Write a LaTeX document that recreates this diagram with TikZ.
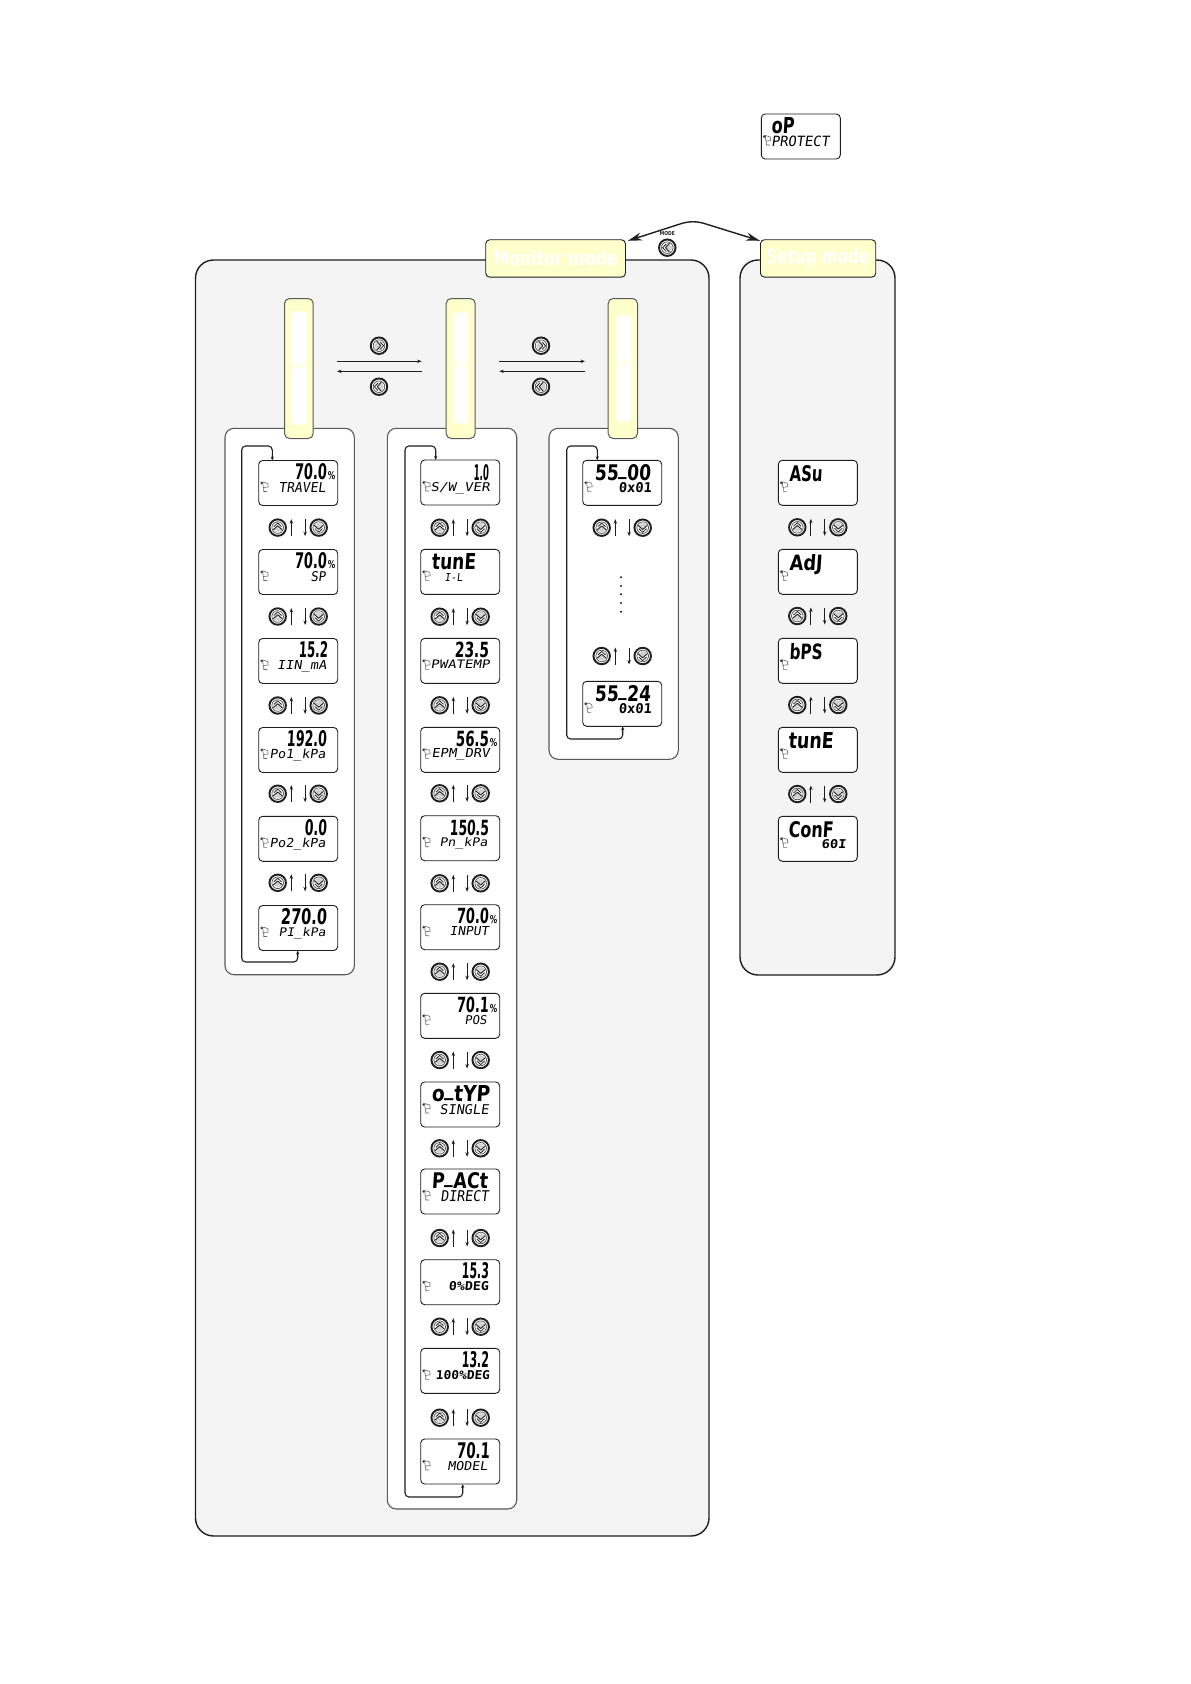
\documentclass[tikz,border=0pt]{standalone}
\usepackage{fontspec}
\usepackage{graphicx}
\usetikzlibrary{arrows.meta,calc}
\setmainfont{Liberation Sans}
\newfontfamily\lcdbigf[FakeSlant=0.08]{DejaVu Sans Bold}
\newfontfamily\lcdsmallf[FakeSlant=0.14]{DejaVu Sans Mono}
\newfontfamily\lcdsmallbf[FakeSlant=0.08]{DejaVu Sans Mono Bold}
\newfontfamily\headf{DejaVu Sans Bold}
\definecolor{panelgrey}{HTML}{F4F4F4}
\definecolor{tabyellow}{HTML}{FFFFCC}
\definecolor{tabhalo}{HTML}{FFFFEC}
\definecolor{inkline}{HTML}{1E1E1E}
\tikzset{
  panel/.style={draw=inkline,line width=1.4pt,fill=panelgrey,rounded corners=18pt},
  subpanel/.style={draw=black!65,line width=1.1pt,fill=white,rounded corners=9pt},
  tabbox/.style={draw=black!65,line width=1pt,fill=tabyellow,rounded corners=5pt},
  headbox/.style={draw=inkline,line width=.9pt,fill=tabyellow,rounded corners=4pt,inner sep=0pt,anchor=north west},
  lcdbox/.style={draw=inkline,line width=.9pt,fill=white,rounded corners=4pt,inner sep=0pt,outer sep=0pt,anchor=north west,minimum width=79pt,minimum height=45pt},
  btnc/.style={circle,draw=inkline,line width=1.9pt,fill=white,inner sep=0pt,minimum size=16.5pt},
  thinarrow/.style={draw=inkline,line width=.9pt,-{Stealth[length=4.5pt,width=3.4pt]}},
  loopline/.style={draw=inkline,line width=1.1pt,rounded corners=4pt,{Stealth[length=4pt,width=3.2pt]}-{Stealth[length=4pt,width=3.2pt]}},
  txt/.style={inner sep=0pt,outer sep=0pt,anchor=base west},
}
% button: name, x, y, rotation
\newcommand{\btnat}[4]{%
  \node[btnc] (#1) at (#2,#3) {};
  \begin{scope}[shift={(#1.center)},rotate=#4]
    \draw[black!70,line width=.7pt] (0,0) circle (5.8pt);
    \fill[black!18] (-4.6,2.6)--(0,-1.4)--(4.6,2.6)--(0,4.8)--cycle;
    \draw[inkline,line width=.9pt,line join=round] (-4.6,2.2)--(0,-1.8)--(4.6,2.2);
    \draw[inkline,line width=.8pt,line join=round] (-3.8,-1.0)--(0,-4.6)--(3.8,-1.0);
  \end{scope}}
% pair of buttons with arrows: id, LCD left, y centre
\newcommand{\updown}[3]{%
  \btnat{#1-u}{{#2+19}}{#3}{0}
  \btnat{#1-d}{{#2+60}}{#3}{180}
  \draw[thinarrow] ([shift={(13.6,8.5)}]#1-u.center) -- ([shift={(13.6,-8.5)}]#1-u.center);
  \draw[thinarrow] ([shift={(-13.6,-8.5)}]#1-d.center) -- ([shift={(-13.6,8.5)}]#1-d.center);}
% LCD frame with its pointer icon: name, left, top
\newcommand{\mylcd}[3]{%
  \node[lcdbox] (#1) at (#2,#3) {};
  \begin{scope}[shift={(#1.north west)}]
    \fill[black!80] (3,22.5) circle (1.4pt);
    \draw[black!60,line width=.6pt] (4,21.5)--(9,23)--(9.5,26.5)--(4.5,27)--cycle (5,27)--(5,31)--(8.5,31);
  \end{scope}}
% text in LCD: style-font, node name, lcd, x0, x1, ytop, ybase, text
\newcommand{\lcdtext}[8]{%
  \pgfmathsetlengthmacro\lcdW{(#5)-(#4)}%
  \pgfmathsetlengthmacro\lcdH{(#7)-(#6)}%
  \node[txt,text=black] (#2) at ([shift={(#4,#7)}]#3.north west) {\resizebox{\lcdW}{\lcdH}{#1#8}};}
\newcommand{\lcdB}[6]{\lcdtext{\lcdbigf}{#1-b}{#1}{#2}{#3}{#4}{#5}{#6}}
\newcommand{\lcdS}[6]{\lcdtext{\lcdsmallf}{#1-s}{#1}{#2}{#3}{#4}{#5}{#6}}
\newcommand{\lcdSB}[6]{\lcdtext{\lcdsmallbf}{#1-s}{#1}{#2}{#3}{#4}{#5}{#6}}
\newcommand{\lcdP}[1]{\lcdtext{\lcdbigf}{#1-p}{#1}{69}{76.5}{11}{19}{\%}}
\newcommand{\lowbar}{\raisebox{.26em}{\_}}
\begin{document}
\begin{tikzpicture}[x=1pt,y=-1pt]
\useasboundingbox (0,0) rectangle (1191,1684);
% panels
\draw[panel] (195.5,260) rectangle (709,1536);
\draw[panel] (740,260) rectangle (895,975);
\draw[subpanel] (225,428.3) rectangle (354.3,974.7);
\draw[subpanel] (387.3,428.3) rectangle (516.7,1509);
\draw[subpanel] (549,428.3) rectangle (678.3,759.3);
% tabs
\node[tabbox,minimum width=28.7pt,minimum height=140pt,inner sep=0pt,anchor=north west] (t1) at (284,298) {};
\node[tabbox,minimum width=29pt,minimum height=140pt,inner sep=0pt,anchor=north west] (t2) at (445.7,298) {};
\node[tabbox,minimum width=29.3pt,minimum height=140pt,inner sep=0pt,anchor=north west] (t3) at (607.7,298) {};
\fill[tabhalo,rounded corners=2pt] (290.5,311) rectangle (307,425);
\fill[tabhalo,rounded corners=2pt] (453,312) rectangle (469,424);
\fill[tabhalo,rounded corners=2pt] (616,315) rectangle (632,422);
\fill[white,rounded corners=1.5pt] (292.7,313) rectangle (305,363) (292.7,368) rectangle (305,423);
\fill[white,rounded corners=1.5pt] (455,314) rectangle (467,363) (455,367) rectangle (467,422);
\fill[white,rounded corners=1.5pt] (618,317) rectangle (630,360) (618,365) rectangle (630,420);
% headers
\node[headbox,minimum width=139.7pt,minimum height=37.4pt] (hm) at (485.3,239.3) {};
\node[headbox,minimum width=115.3pt,minimum height=37.4pt] (hs) at (760,239.3) {};
\node[inner sep=0pt,text=white] (hmt) at (hm.center) {\resizebox{124pt}{15pt}{\headf Monitor mode}};
\node[inner sep=0pt,text=white] (hst) at (hs.center) {\resizebox{103pt}{15pt}{\headf Setup mode}};
% mode switch
\coordinate (arcL) at (680,224);
\coordinate (arcLc) at (689,221);
\coordinate (arcRc) at (697,221);
\coordinate (arcR) at (706,224);
\draw[draw=inkline,line width=1.4pt,{Stealth[length=14pt,width=8pt]}-{Stealth[length=14pt,width=8pt]}] ([shift={(2,1.5)}]hm.north east) -- (arcL) .. controls (arcLc) and (arcRc) .. (arcR) -- ([shift={(0,1.5)}]hs.north west);
\btnat{bmode}{667.3}{247.7}{90}
\node[inner sep=0pt,text=inkline] (modetxt) at (667.3,234) {\resizebox{15pt}{4pt}{\headf MODE}};
% group change arrows
\draw[thinarrow] ([shift={(23.3,63.3)}]t1.north east) -- ([shift={(-24,63.3)}]t2.north west);
\draw[thinarrow] ([shift={(-24,73.3)}]t2.north west) -- ([shift={(23.3,73.3)}]t1.north east);
\draw[thinarrow] ([shift={(23.6,63.3)}]t2.north east) -- ([shift={(-22.7,63.3)}]t3.north west);
\draw[thinarrow] ([shift={(-22.7,73.3)}]t3.north west) -- ([shift={(23.6,73.3)}]t2.north east);
\btnat{g1r}{379}{345.7}{-90}
\btnat{g1l}{379}{386.7}{90}
\btnat{g2r}{541}{345.7}{-90}
\btnat{g2l}{541}{386.7}{90}
% top LCD
\mylcd{op}{761.3}{114}
\lcdB{op}{10}{33}{3}{19}{oP}
\lcdS{op}{10}{68}{21.5}{32}{PROTECT}
% column 1
\mylcd{a1}{258.7}{460.5} \lcdB{a1}{36}{68}{3}{19}{70.0} \lcdP{a1} \lcdS{a1}{20}{67}{22}{32}{TRAVEL}
\mylcd{a2}{258.7}{549.5} \lcdB{a2}{36}{68}{3}{19}{70.0} \lcdP{a2} \lcdS{a2}{52}{67}{22}{32}{SP}
\mylcd{a3}{258.7}{638.5} \lcdB{a3}{40}{69}{3}{19}{15.2} \lcdS{a3}{18.5}{68}{22}{31}{IIN\_mA}
\mylcd{a4}{258.7}{727.5} \lcdB{a4}{28}{68}{3}{19}{192.0} \lcdS{a4}{11}{67}{21.5}{31}{Po1\_kPa}
\mylcd{a5}{258.7}{816.3} \lcdB{a5}{46}{68}{3}{19}{0.0} \lcdS{a5}{11}{67}{21.5}{31}{Po2\_kPa}
\mylcd{a6}{258.7}{905.5} \lcdB{a6}{22}{68}{3}{19}{270.0} \lcdS{a6}{20}{67}{22}{31}{PI\_kPa}
\updown{ab1}{258.7}{527.6}
\updown{ab2}{258.7}{616.5}
\updown{ab3}{258.7}{705.5}
\updown{ab4}{258.7}{793.7}
\updown{ab5}{258.7}{882.8}
\coordinate (l1sw) at (241.7,962);
\coordinate (l1nw) at (241.7,446);
\draw[loopline] ([xshift=39pt]a6.south west) |- (l1sw) -- (l1nw) -| ([xshift=13.6pt]a1.north west);
% column 2
\mylcd{b1}{420.7}{460} \lcdB{b1}{53}{68}{4}{20}{1.0} \lcdS{b1}{10}{69}{22}{31}{S/W\_VER}
\mylcd{b2}{420.7}{549.3} \lcdB{b2}{11}{55}{4}{20}{tunE} \lcdS{b2}{24}{42}{24}{32}{I-L}
\mylcd{b3}{420.7}{638.3} \lcdB{b3}{34}{68}{4}{19.5}{23.5} \lcdS{b3}{10}{69}{22}{30.5}{PWATEMP}
\mylcd{b4}{420.7}{727.3} \lcdB{b4}{35}{68}{3.5}{19}{56.5} \lcdP{b4} \lcdS{b4}{11}{69}{21}{30}{EPM\_DRV}
\mylcd{b5}{420.7}{815.7} \lcdB{b5}{29}{68}{4}{19.5}{150.5} \lcdS{b5}{19}{67}{22}{31}{Pn\_kPa}
\mylcd{b6}{420.7}{904.7} \lcdB{b6}{36}{68}{3.5}{19}{70.0} \lcdP{b6} \lcdS{b6}{29}{68}{22}{31}{INPUT}
\mylcd{b7}{420.7}{993.3} \lcdB{b7}{36}{68}{3.5}{19}{70.1} \lcdP{b7} \lcdS{b7}{44}{66}{22}{31}{POS}
\mylcd{b8}{420.7}{1082} \lcdB{b8}{11}{69}{3}{19}{o\lowbar tYP} \lcdS{b8}{19}{68}{22}{32}{SINGLE}
\mylcd{b9}{420.7}{1169} \lcdB{b9}{11}{67}{3}{19}{P\lowbar ACt} \lcdS{b9}{20}{68}{21}{32}{DIRECT}
\mylcd{b10}{420.7}{1259.7} \lcdB{b10}{41}{68}{3}{19}{15.3} \lcdSB{b10}{28}{68}{22}{31}{0\%DEG}
\mylcd{b11}{420.7}{1348.3} \lcdB{b11}{41}{68}{3}{19}{13.2} \lcdSB{b11}{15}{69}{22}{31}{100\%DEG}
\mylcd{b12}{420.7}{1439} \lcdB{b12}{36}{69}{3}{19}{70.1} \lcdS{b12}{27}{67}{22}{31}{MODEL}
\updown{bb1}{420.7}{527.7}
\updown{bb2}{420.7}{616.7}
\updown{bb3}{420.7}{705.3}
\updown{bb4}{420.7}{793.3}
\updown{bb5}{420.7}{883.3}
\updown{bb6}{420.7}{971.7}
\updown{bb7}{420.7}{1060}
\updown{bb8}{420.7}{1148.3}
\updown{bb9}{420.7}{1238}
\updown{bb10}{420.7}{1326.7}
\updown{bb11}{420.7}{1417.7}
\coordinate (l2sw) at (405,1497);
\coordinate (l2nw) at (405,446);
\draw[loopline] ([xshift=42pt]b12.south west) |- (l2sw) -- (l2nw) -| ([xshift=15pt]b1.north west);
% column 3
\mylcd{c1}{582.7}{460.3} \lcdB{c1}{12}{68}{4}{20}{55\lowbar 00} \lcdSB{c1}{36}{69}{22}{32}{0x01}
\mylcd{c2}{582.7}{681.3} \lcdB{c2}{12}{68}{4}{20}{55\lowbar 24} \lcdSB{c2}{36}{69}{22}{32}{0x01}
\updown{cb1}{582.7}{527.7}
\updown{cb2}{582.7}{656}
\foreach \yy in {577.3,586,594.3,603,611.7} \fill[inkline] (621,\yy) circle (1.1pt);
\coordinate (l3sw) at (566.7,739);
\coordinate (l3nw) at (566.7,446);
\draw[loopline] ([xshift=40pt]c2.south west) |- (l3sw) -- (l3nw) -| ([xshift=14.6pt]c1.north west);
% setup column
\mylcd{d1}{778.3}{460.3} \lcdB{d1}{11}{44}{5}{21}{ASu}
\mylcd{d2}{778.3}{549.3} \lcdB{d2}{11}{44}{5}{21}{AdJ}
\mylcd{d3}{778.3}{638.3} \lcdB{d3}{11}{44}{5}{21}{bPS}
\mylcd{d4}{778.3}{727.3} \lcdB{d4}{10}{55}{5}{21}{tunE}
\mylcd{d5}{778.3}{816.3} \lcdB{d5}{10}{55}{5}{21}{ConF} \lcdSB{d5}{43}{68}{23}{32}{60I}
\updown{db1}{778.3}{527.3}
\updown{db2}{778.3}{616}
\updown{db3}{778.3}{705}
\updown{db4}{778.3}{794}
\end{tikzpicture}
\end{document}
